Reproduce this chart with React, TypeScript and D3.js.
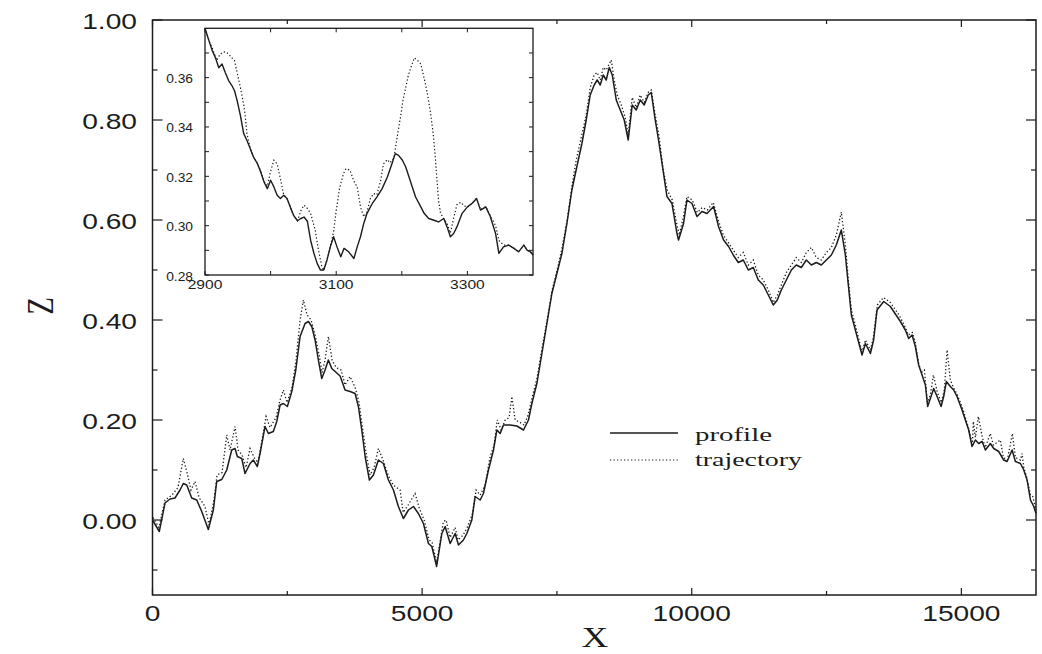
import React from "react";
import * as d3 from "d3";

// ---------- data ----------
const profile: [number, number][] = [
[0,0.0],[126,-0.023],[232,0.034],[325,0.042],[417,0.044],[510,0.06],[571,0.073],[635,0.07],[727,0.044],[820,0.04],[913,0.017],[1035,-0.019],[1128,0.02],[1191,0.077],[1284,0.081],[1377,0.10],[1469,0.14],[1531,0.143],[1573,0.127],[1655,0.123],[1716,0.093],[1809,0.113],[1870,0.12],[1944,0.107],[1994,0.133],[2087,0.187],[2149,0.173],[2241,0.177],[2304,0.197],[2366,0.23],[2427,0.233],[2501,0.227],[2583,0.257],[2657,0.30],[2737,0.367],[2829,0.393],[2891,0.397],[2954,0.387],[3015,0.36],[3076,0.32],[3139,0.283],[3200,0.30],[3262,0.32],[3325,0.303],[3386,0.297],[3479,0.288],[3571,0.26],[3664,0.257],[3757,0.253],[3818,0.227],[3881,0.18],[3943,0.127],[4022,0.08],[4097,0.09],[4189,0.12],[4282,0.113],[4375,0.08],[4468,0.06],[4560,0.027],[4653,0.003],[4746,0.02],[4839,0.027],[4931,0.013],[5024,-0.007],[5117,-0.047],[5180,-0.053],[5269,-0.093],[5366,-0.027],[5427,-0.013],[5520,-0.047],[5612,-0.027],[5674,-0.05],[5766,-0.04],[5829,-0.027],[5922,0.0],[5983,0.047],[6076,0.04],[6137,0.053],[6230,0.10],[6323,0.14],[6386,0.18],[6447,0.173],[6509,0.19],[6633,0.19],[6757,0.188],[6880,0.18],[6972,0.20],[7035,0.233],[7128,0.273],[7221,0.333],[7314,0.393],[7406,0.453],[7499,0.493],[7592,0.533],[7685,0.593],[7777,0.66],[7870,0.707],[7963,0.753],[8043,0.80],[8117,0.85],[8191,0.87],[8247,0.88],[8303,0.87],[8359,0.89],[8414,0.88],[8470,0.905],[8526,0.89],[8600,0.84],[8674,0.82],[8748,0.80],[8822,0.76],[8896,0.83],[8971,0.82],[9045,0.84],[9119,0.83],[9193,0.85],[9249,0.855],[9323,0.80],[9384,0.76],[9477,0.693],[9540,0.647],[9633,0.633],[9726,0.573],[9755,0.56],[9848,0.593],[9911,0.64],[10004,0.633],[10097,0.607],[10190,0.617],[10282,0.613],[10405,0.627],[10497,0.587],[10590,0.56],[10683,0.547],[10770,0.53],[10863,0.515],[10956,0.52],[11049,0.50],[11141,0.505],[11234,0.48],[11327,0.47],[11420,0.45],[11512,0.43],[11587,0.44],[11661,0.46],[11754,0.48],[11847,0.50],[11939,0.51],[12032,0.505],[12125,0.52],[12218,0.51],[12310,0.515],[12403,0.51],[12496,0.52],[12589,0.53],[12681,0.55],[12774,0.58],[12849,0.53],[12904,0.47],[12960,0.41],[13034,0.38],[13158,0.33],[13220,0.353],[13313,0.333],[13373,0.36],[13436,0.42],[13560,0.437],[13683,0.427],[13807,0.407],[13869,0.397],[13961,0.38],[14023,0.363],[14086,0.37],[14147,0.347],[14208,0.31],[14271,0.29],[14333,0.27],[14375,0.227],[14425,0.243],[14487,0.263],[14550,0.247],[14624,0.227],[14672,0.247],[14722,0.277],[14796,0.267],[14857,0.26],[14920,0.247],[15013,0.22],[15074,0.20],[15136,0.18],[15198,0.147],[15260,0.16],[15321,0.153],[15384,0.157],[15446,0.14],[15538,0.153],[15600,0.143],[15692,0.137],[15785,0.12],[15848,0.117],[15941,0.14],[16002,0.117],[16095,0.113],[16157,0.10],[16219,0.08],[16281,0.04],[16343,0.027],[16384,0.013]
];

const trajectory: [number, number][] = [
[10,0.005],[120,-0.015],[232,0.04],[362,0.05],[473,0.065],[571,0.123],[640,0.095],[714,0.06],[789,0.077],[863,0.045],[974,0.027],[1048,-0.01],[1141,0.04],[1197,0.09],[1289,0.095],[1377,0.17],[1438,0.14],[1531,0.187],[1586,0.14],[1660,0.13],[1735,0.105],[1809,0.143],[1883,0.125],[1957,0.115],[2031,0.16],[2106,0.207],[2180,0.185],[2291,0.205],[2366,0.24],[2427,0.26],[2495,0.235],[2588,0.265],[2662,0.32],[2737,0.40],[2798,0.44],[2866,0.41],[2941,0.40],[3015,0.37],[3089,0.33],[3145,0.295],[3200,0.32],[3262,0.367],[3330,0.32],[3404,0.305],[3497,0.30],[3571,0.27],[3664,0.287],[3757,0.265],[3831,0.235],[3887,0.19],[3961,0.135],[4035,0.09],[4110,0.105],[4189,0.143],[4276,0.12],[4369,0.09],[4462,0.07],[4592,0.06],[4648,0.015],[4740,0.03],[4870,0.053],[4944,0.025],[5037,0.0],[5130,-0.04],[5185,-0.045],[5269,-0.085],[5395,-0.003],[5445,0.0],[5519,-0.035],[5612,-0.015],[5668,-0.04],[5761,-0.03],[5835,-0.015],[5928,0.01],[6002,0.06],[6076,0.05],[6169,0.07],[6262,0.127],[6336,0.15],[6392,0.20],[6466,0.18],[6540,0.20],[6614,0.205],[6664,0.247],[6725,0.20],[6818,0.195],[6892,0.19],[6966,0.21],[7040,0.245],[7133,0.285],[7226,0.345],[7319,0.40],[7412,0.46],[7504,0.50],[7597,0.545],[7690,0.60],[7782,0.67],[7857,0.72],[7950,0.765],[8043,0.81],[8117,0.865],[8191,0.89],[8247,0.895],[8303,0.88],[8359,0.905],[8414,0.90],[8507,0.92],[8563,0.88],[8618,0.85],[8693,0.83],[8767,0.805],[8822,0.77],[8896,0.845],[8971,0.825],[9045,0.85],[9119,0.835],[9193,0.855],[9249,0.86],[9323,0.81],[9397,0.765],[9471,0.70],[9545,0.66],[9638,0.64],[9726,0.59],[9768,0.57],[9843,0.605],[9911,0.647],[10009,0.64],[10102,0.615],[10195,0.625],[10288,0.62],[10399,0.635],[10492,0.60],[10585,0.57],[10678,0.555],[10770,0.54],[10863,0.525],[10956,0.535],[11049,0.51],[11141,0.52],[11234,0.49],[11327,0.48],[11420,0.46],[11512,0.435],[11587,0.45],[11661,0.47],[11754,0.495],[11847,0.51],[11939,0.525],[12032,0.515],[12125,0.535],[12218,0.545],[12310,0.525],[12403,0.52],[12496,0.535],[12589,0.545],[12681,0.57],[12774,0.616],[12849,0.55],[12904,0.48],[12960,0.42],[13034,0.39],[13158,0.335],[13220,0.36],[13313,0.34],[13368,0.365],[13442,0.43],[13554,0.445],[13683,0.435],[13813,0.415],[13869,0.405],[13961,0.385],[14017,0.37],[14091,0.375],[14147,0.355],[14203,0.315],[14258,0.295],[14314,0.30],[14370,0.235],[14425,0.25],[14481,0.29],[14555,0.255],[14629,0.235],[14684,0.26],[14735,0.34],[14796,0.28],[14852,0.265],[14926,0.25],[15018,0.225],[15074,0.205],[15130,0.185],[15204,0.15],[15222,0.197],[15260,0.165],[15315,0.207],[15389,0.165],[15444,0.145],[15537,0.173],[15593,0.15],[15723,0.16],[15779,0.125],[15853,0.12],[15946,0.173],[16002,0.125],[16095,0.12],[16126,0.133],[16157,0.105],[16212,0.085],[16281,0.05],[16324,0.047],[16384,0.02]
];

const insetProfile: [number, number][] = [
[2900,0.380],[2906,0.375],[2911,0.371],[2916,0.368],[2921,0.364],[2926,0.3655],[2931,0.362],[2936,0.3588],[2941,0.3568],[2945,0.3547],[2949,0.3507],[2954,0.3446],[2959,0.3373],[2964,0.3345],[2969,0.3312],[2974,0.3278],[2980,0.3251],[2985,0.3217],[2990,0.3177],[2995,0.315],[3000,0.3184],[3005,0.3157],[3010,0.3123],[3015,0.311],[3020,0.3123],[3025,0.311],[3030,0.3076],[3035,0.3042],[3041,0.302],[3046,0.3029],[3051,0.3035],[3056,0.3018],[3061,0.2941],[3066,0.2888],[3071,0.2847],[3076,0.282],[3081,0.282],[3086,0.2861],[3091,0.2914],[3096,0.2955],[3102,0.2908],[3107,0.2874],[3112,0.2908],[3119,0.2894],[3127,0.2867],[3132,0.2914],[3137,0.2955],[3142,0.3009],[3147,0.305],[3155,0.309],[3162,0.3116],[3170,0.315],[3178,0.3197],[3185,0.3251],[3190,0.3292],[3195,0.3285],[3201,0.3265],[3206,0.3238],[3211,0.3197],[3216,0.3157],[3221,0.3116],[3229,0.3076],[3234,0.305],[3241,0.3029],[3249,0.3022],[3256,0.3015],[3264,0.3029],[3269,0.2995],[3274,0.2955],[3279,0.2968],[3284,0.2995],[3292,0.305],[3300,0.3076],[3307,0.309],[3314,0.311],[3320,0.3063],[3328,0.3076],[3335,0.3036],[3343,0.2968],[3348,0.2888],[3355,0.2914],[3363,0.2921],[3371,0.2908],[3378,0.2894],[3386,0.2921],[3391,0.2901],[3396,0.2894],[3400,0.2881]
];

const insetTrajectory: [number, number][] = [
[2900,0.380],[2906,0.375],[2911,0.372],[2918,0.367],[2922,0.369],[2926,0.3702],[2931,0.3705],[2936,0.3696],[2941,0.368],[2945,0.3669],[2949,0.362],[2954,0.356],[2959,0.349],[2961,0.3453],[2964,0.3373],[2969,0.3312],[2974,0.3278],[2980,0.3251],[2985,0.322],[2990,0.318],[2995,0.316],[3000,0.322],[3005,0.3265],[3010,0.325],[3015,0.319],[3020,0.3125],[3025,0.311],[3030,0.3076],[3035,0.3042],[3041,0.302],[3046,0.306],[3051,0.3083],[3056,0.307],[3061,0.305],[3068,0.2982],[3073,0.2901],[3078,0.2834],[3081,0.282],[3086,0.2861],[3091,0.2914],[3096,0.2975],[3100,0.306],[3105,0.315],[3111,0.321],[3115,0.3231],[3121,0.3225],[3127,0.318],[3132,0.3157],[3137,0.3076],[3142,0.3036],[3147,0.3055],[3152,0.311],[3157,0.313],[3162,0.3125],[3168,0.3185],[3172,0.325],[3178,0.3268],[3182,0.3255],[3188,0.3275],[3193,0.336],[3198,0.344],[3202,0.351],[3206,0.356],[3210,0.361],[3214,0.3642],[3219,0.368],[3224,0.367],[3229,0.3655],[3236,0.3575],[3240,0.352],[3244,0.3453],[3248,0.337],[3251,0.3278],[3256,0.3103],[3259,0.305],[3264,0.3029],[3269,0.301],[3274,0.297],[3279,0.303],[3284,0.3085],[3290,0.3095],[3295,0.308],[3300,0.3076],[3307,0.309],[3314,0.311],[3320,0.3065],[3328,0.3077],[3335,0.304],[3343,0.3],[3348,0.294],[3355,0.2921],[3363,0.2921],[3371,0.2908],[3378,0.2894],[3386,0.2921],[3391,0.2901],[3396,0.2894],[3400,0.2881]
];

const xMajorTicks = [0, 5000, 10000, 15000];
const xMinorTicks = [2500, 7500, 12500];
const yMajorTicks = [0, 0.2, 0.4, 0.6, 0.8, 1.0];
const yMinorTicks = [-0.1, 0.1, 0.3, 0.5, 0.7, 0.9];
const insetXTicks = [2900, 3100, 3300];
const insetXMinorTicks = [3000, 3200];
const insetYTicks = [0.28, 0.3, 0.32, 0.34, 0.36];
const insetYMinorTicks = [0.29, 0.31, 0.33, 0.35, 0.37];
const legendItems = [
  { label: "profile", dash: "none" },
  { label: "trajectory", dash: "1.3 2.2" },
];

const W = 1042;
const H = 654;
const INK = "#1c1c1c";
const SANS = "'Liberation Sans', Arial, sans-serif";
const SERIF = "'Liberation Serif', 'Times New Roman', serif";

export default function App() {
  const x = d3.scaleLinear().domain([0, 16384]).range([152.5, 1036]);
  const y = d3.scaleLinear().domain([-0.15, 1.0]).range([595, 20]);
  const ix = d3.scaleLinear().domain([2900, 3400]).range([205, 533]);
  const iy = d3.scaleLinear().domain([0.28, 0.38]).range([275, 28.3]);

  const line = d3.line<[number, number]>().x((d) => x(d[0])).y((d) => y(d[1]));
  const iline = d3.line<[number, number]>().x((d) => ix(d[0])).y((d) => iy(d[1]));

  const [x0, x1] = x.range();
  const [yb, yt] = y.range();
  const [ix0, ix1] = ix.range();
  const [iyb, iyt] = iy.range();
  const fmtY = d3.format(".2f");

  return (
    <svg
      width={W}
      height={H}
      style={{ position: "absolute", left: 0, top: 0, background: "#fff" }}
    >
      <rect width={W} height={H} fill="#fff" />

      {/* main frame */}
      <rect x={x0} y={yt} width={x1 - x0} height={yb - yt} fill="none" stroke={INK} strokeWidth={1.5} />

      {/* x ticks (bottom + top, inward) */}
      {xMajorTicks.map((t) => (
        <g key={"xM" + t}>
          <line x1={x(t)} x2={x(t)} y1={yb} y2={yb - 7} stroke={INK} strokeWidth={1.2} />
          <line x1={x(t)} x2={x(t)} y1={yt} y2={yt + 7} stroke={INK} strokeWidth={1.2} />
          <text
            transform={`translate(${x(t)},621) scale(1.28,1)`}
            textAnchor="middle"
            fontFamily={SANS}
            fontSize={22}
            fill={INK}
          >
            {String(t)}
          </text>
        </g>
      ))}
      {xMinorTicks.map((t) => (
        <g key={"xm" + t}>
          <line x1={x(t)} x2={x(t)} y1={yb} y2={yb - 4} stroke={INK} strokeWidth={1.2} />
          <line x1={x(t)} x2={x(t)} y1={yt} y2={yt + 4} stroke={INK} strokeWidth={1.2} />
        </g>
      ))}

      {/* y ticks (left + right, inward) */}
      {yMajorTicks.map((t) => (
        <g key={"yM" + t}>
          <line x1={x0} x2={x0 + 10} y1={y(t)} y2={y(t)} stroke={INK} strokeWidth={1.2} />
          <line x1={x1} x2={x1 - 10} y1={y(t)} y2={y(t)} stroke={INK} strokeWidth={1.2} />
          <text
            transform={`translate(137,${y(t) + 9}) scale(1.28,1)`}
            textAnchor="end"
            fontFamily={SANS}
            fontSize={22}
            fill={INK}
          >
            {fmtY(t)}
          </text>
        </g>
      ))}
      {yMinorTicks.map((t) => (
        <g key={"ym" + t}>
          <line x1={x0} x2={x0 + 5} y1={y(t)} y2={y(t)} stroke={INK} strokeWidth={1.2} />
          <line x1={x1} x2={x1 - 5} y1={y(t)} y2={y(t)} stroke={INK} strokeWidth={1.2} />
        </g>
      ))}

      {/* axis titles */}
      <text
        transform="translate(53,306) scale(1.3,1) rotate(-90)"
        textAnchor="middle"
        fontFamily={SERIF}
        fontSize={29}
        fill={INK}
      >
        Z
      </text>
      <text
        transform="translate(595,647) scale(1.28,1)"
        textAnchor="middle"
        fontFamily={SERIF}
        fontSize={29}
        fill={INK}
      >
        X
      </text>

      {/* main curves */}
      <path d={line(trajectory) || ""} fill="none" stroke={INK} strokeWidth={1.3} strokeDasharray="1.3 2.2" />
      <path d={line(profile) || ""} fill="none" stroke={INK} strokeWidth={1.5} strokeLinejoin="round" />

      {/* legend */}
      {legendItems.map((it, i) => (
        <g key={it.label}>
          <line
            x1={610}
            x2={678}
            y1={433 + i * 27}
            y2={433 + i * 27}
            stroke={INK}
            strokeWidth={it.dash === "none" ? 1.4 : 1.2}
            strokeDasharray={it.dash === "none" ? undefined : it.dash}
          />
          <text
            x={695}
            y={440.5 + i * 25}
            fontFamily={SERIF}
            fontSize={19}
            fill={INK}
            textLength={i === 0 ? 77 : 107}
            lengthAdjust="spacingAndGlyphs"
          >
            {it.label}
          </text>
        </g>
      ))}

      {/* inset */}
      <rect x={ix0} y={iyt} width={ix1 - ix0} height={iyb - iyt} fill="#fff" stroke={INK} strokeWidth={1.3} />
      {[...insetYTicks, ...insetYMinorTicks].map((t) => (
        <g key={"iy" + t}>
          <line x1={ix0} x2={ix0 + 4} y1={iy(t)} y2={iy(t)} stroke={INK} strokeWidth={1} />
          <line x1={ix1} x2={ix1 - 4} y1={iy(t)} y2={iy(t)} stroke={INK} strokeWidth={1} />
        </g>
      ))}
      {insetYTicks.map((t) => (
        <text
          key={"iyl" + t}
          transform={`translate(193,${iy(t) + 5.5}) scale(1.15,1)`}
          textAnchor="end"
          fontFamily={SANS}
          fontSize={12}
          fill={INK}
        >
          {fmtY(t)}
        </text>
      ))}
      {[...insetXTicks, ...insetXMinorTicks].map((t) => (
        <g key={"ix" + t}>
          <line x1={ix(t)} x2={ix(t)} y1={iyb} y2={iyb - 4} stroke={INK} strokeWidth={1} />
          <line x1={ix(t)} x2={ix(t)} y1={iyt} y2={iyt + 4} stroke={INK} strokeWidth={1} />
        </g>
      ))}
      {insetXTicks.map((t) => (
        <text
          key={"ixl" + t}
          transform={`translate(${ix(t)},288.5) scale(1.3,1)`}
          textAnchor="middle"
          fontFamily={SANS}
          fontSize={12}
          fill={INK}
        >
          {String(t)}
        </text>
      ))}
      <path d={iline(insetTrajectory) || ""} fill="none" stroke={INK} strokeWidth={1.2} strokeDasharray="1.3 2.2" />
      <path d={iline(insetProfile) || ""} fill="none" stroke={INK} strokeWidth={1.4} strokeLinejoin="round" />
    </svg>
  );
}
